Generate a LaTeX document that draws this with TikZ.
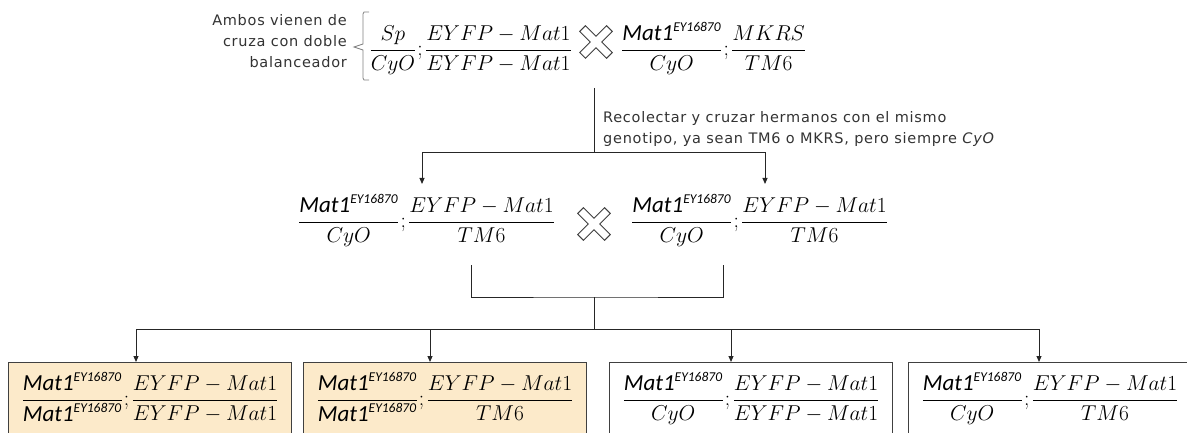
\RequirePackage{fix-cm}
\documentclass[tikz,border=0pt]{standalone}
\usepackage{amsmath}
\usepackage{fontspec}
\newfontfamily\calfont{Carlito}
\newfontfamily\dvfont{DejaVu Sans}[LetterSpace=5]
\usetikzlibrary{arrows.meta,calc}
\definecolor{peach}{RGB}{252,234,202}
\newcommand{\MatE}{\text{\fontsize{23}{26}\selectfont\calfont\itshape Mat1}^{\text{\fontsize{13.5}{14}\selectfont\calfont\itshape EY16870}}}
\newcommand{\gfrac}[2]{{\dfrac{#1}{#2}}}
\newcommand{\sepc}{\mkern1mu{;}\mkern2mu}
\newcommand{\xmarkat}[2]{%
  \draw[xmark, shift={(#1,#2)}, rotate=45]
    (4,19) -- (4,4) -- (19,4) -- (19,-4) -- (4,-4) -- (4,-19) -- (-4,-19)
    -- (-4,-4) -- (-19,-4) -- (-19,4) -- (-4,4) -- (-4,19) -- cycle;}
\begin{document}
\begin{tikzpicture}[x=1pt,y=-1pt,
  lab/.style={font=\dvfont\fontsize{14.5}{21}\selectfont, text=black!80, inner sep=0pt},
  gen/.style={font=\fontsize{21.5}{26}\selectfont, inner sep=0pt},
  con/.style={line width=1pt, draw=black!85},
  arr/.style={con, -{Triangle[length=6pt,width=5pt]}},
  gbox/.style={draw=black!75, line width=1pt, minimum width=283pt, minimum height=90pt, anchor=north west, inner sep=0pt},
  xmark/.style={draw=black!75, line width=0.9pt, fill=white, line join=miter}]
\useasboundingbox (0,0) rectangle (1187,433);
\clip (0,0) rectangle (1187,433);

% top row
\node[lab, align=right, anchor=north east] (amb) at (347,14) {Ambos vienen de\\cruza con doble\\balanceador};
\draw[black!50, line width=0.8pt] (369,12) -- (364,12) -- (363,14) -- (363,44) -- (354,47) -- (363,50) -- (363,78) -- (364,80) -- (369,80);
\node[gen, anchor=base east] (p1) at (572,55.5) {$\gfrac{Sp}{CyO}\sepc\gfrac{EYFP-Mat1}{EYFP-Mat1}$};
\xmarkat{596}{42}
\node[gen, anchor=base west] (p2) at (621,55.5) {$\gfrac{\MatE}{CyO}\sepc\gfrac{MKRS}{TM6}$};

\node[lab, align=left, anchor=north west] (rec) at (603,111) {Recolectar y cruzar hermanos con el mismo\\genotipo, ya sean TM6 o MKRS, pero siempre \textit{CyO}};

\coordinate (t0) at (594,88);
\coordinate (t1) at (594,153);
\coordinate (a1) at (422,184);
\coordinate (a2) at (765,184);
\draw[con] (t0) -- (t1);
\draw[arr] (t1) -| (a1);
\draw[arr] (t1) -| (a2);

% second row
\node[gen, anchor=base west] (q1) at (298,227.5) {$\gfrac{\MatE}{CyO}\sepc\gfrac{EYFP-Mat1}{TM6}$};
\xmarkat{594}{224}
\node[gen, anchor=base west] (q2) at (631,227.5) {$\gfrac{\MatE}{CyO}\sepc\gfrac{EYFP-Mat1}{TM6}$};

\coordinate (k1) at (471,265);
\coordinate (k2) at (723,265);
\coordinate (k3) at (594,297);
\coordinate (k4) at (594,329);
\draw[con] (k1) |- (k3) -| (k2);
\draw[con] (k3) -- (k4);

% bottom row
\node[gbox, fill=peach] (b1) at (8,362) {};
\node[gbox, fill=peach] (b2) at (303,362) {};
\node[gbox, fill=white] (b3) at (609,362) {};
\node[gbox, fill=white] (b4) at (908,362) {};

\coordinate (h1) at (136,329);
\coordinate (h2) at (430,329);
\coordinate (h3) at (731,329);
\coordinate (h4) at (1039,329);
\draw[con] (h1) -- (h4);
\draw[arr] (h1) -- (h1 |- b1.north);
\draw[arr] (h2) -- (h2 |- b2.north);
\draw[arr] (h3) -- (h3 |- b3.north);
\draw[arr] (h4) -- (h4 |- b4.north);

\node[gen, anchor=base] (c1) at ($(b1.north)+(0,43.5)$) {$\gfrac{\MatE}{\MatE}\sepc\gfrac{EYFP-Mat1}{EYFP-Mat1}$};
\node[gen, anchor=base] (c2) at ($(b2.north)+(0,43.5)$) {$\gfrac{\MatE}{\MatE}\sepc\gfrac{EYFP-Mat1}{TM6}$};
\node[gen, anchor=base] (c3) at ($(b3.north)+(0,43.5)$) {$\gfrac{\MatE}{CyO}\sepc\gfrac{EYFP-Mat1}{EYFP-Mat1}$};
\node[gen, anchor=base] (c4) at ($(b4.north)+(0,43.5)$) {$\gfrac{\MatE}{CyO}\sepc\gfrac{EYFP-Mat1}{TM6}$};
\end{tikzpicture}
\end{document}
